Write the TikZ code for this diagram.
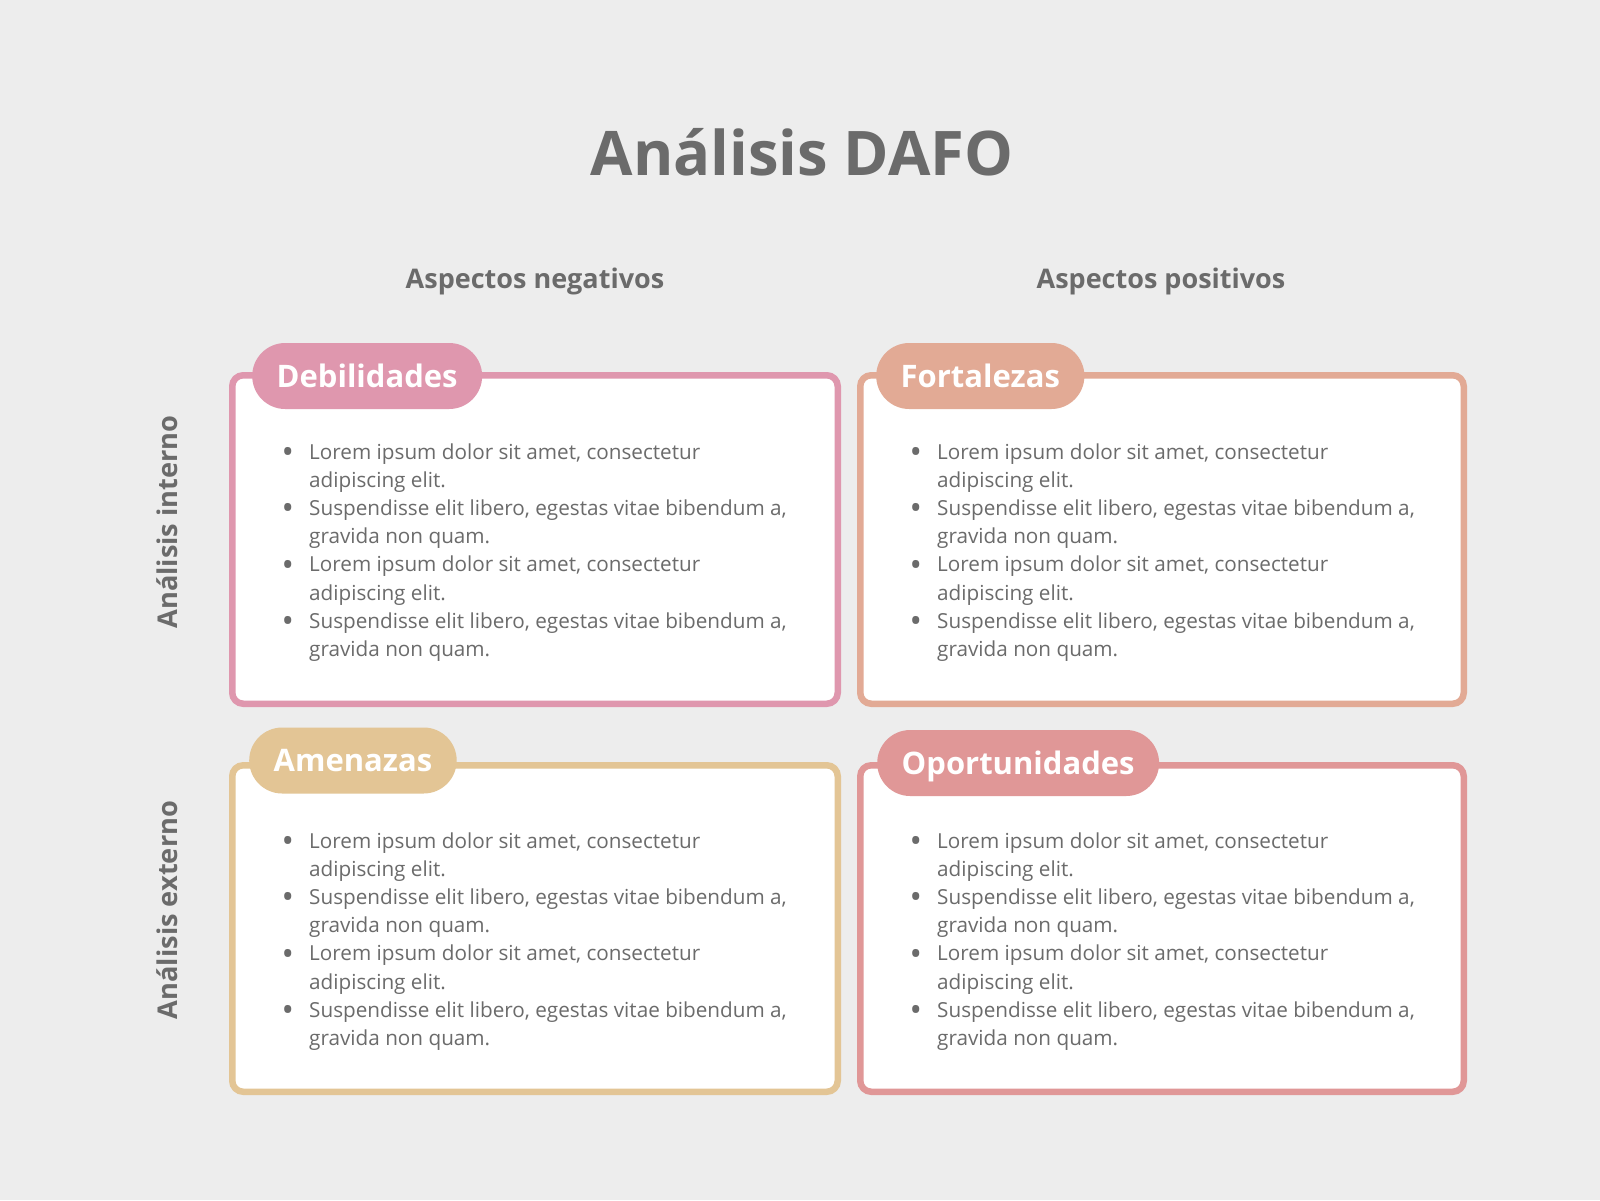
\documentclass[tikz,border=0pt]{standalone}
\usepackage{fontspec}
\setmainfont{Open Sans}
\definecolor{bg}{HTML}{EDEDED}
\definecolor{txt}{HTML}{6B6B6B}
\definecolor{cdeb}{HTML}{DF97AE}
\definecolor{cfor}{HTML}{E2AA95}
\definecolor{came}{HTML}{E3C595}
\definecolor{copo}{HTML}{E09797}
\newcommand\bul{\makebox[0pt][r]{\makebox[0pt][c]{\raisebox{-4.5pt}{\fontsize{33}{33}\selectfont\textbullet}}\hspace{21.5pt}}}
\newcommand\dafolist{\begin{tabular}[t]{@{}l@{}}
\bul Lorem ipsum dolor sit amet, consectetur\\
adipiscing elit.\\
\bul Suspendisse elit libero, egestas vitae bibendum a,\\
gravida non quam.\\
\bul Lorem ipsum dolor sit amet, consectetur\\
adipiscing elit.\\
\bul Suspendisse elit libero, egestas vitae bibendum a,\\
gravida non quam.
\end{tabular}}
\begin{document}
\begin{tikzpicture}[x=1pt,y=-1pt,
  quad/.style={fill=white, line width=6.5pt, rounded corners=11pt},
  tab/.style={anchor=west, minimum height=66pt, inner xsep=24.5pt, inner ysep=0pt,
    text height=22pt, text depth=0pt,
    rounded corners=33pt, text=white, font=\fontsize{31}{37}\selectfont\bfseries},
  listtext/.style={anchor=base west, inner sep=0pt, text=txt,
    font=\fontsize{20.7}{28.2}\selectfont},
  head/.style={anchor=base, inner sep=0pt, text=txt, font=\fontsize{27}{32}\selectfont\bfseries},
  side/.style={anchor=base, rotate=90, inner sep=0pt, text=txt, font=\fontsize{27.2}{32}\selectfont\bfseries}]
\useasboundingbox (0,0) rectangle (1600,1200);
\fill[bg] (0,0) rectangle (1600,1200);

% title and headings
\node[anchor=base, inner sep=0pt, text=txt, font=\fontsize{61.5}{70}\selectfont\bfseries] (title) at (802,175) {Análisis DAFO};
\node[head] (neg) at (535,288) {Aspectos negativos};
\node[head] (pos) at (1161,288) {Aspectos positivos};
\node[side] (int) at (177,522) {Análisis interno};
\node[side] (ext) at (177,910) {Análisis externo};

% boxes
\draw[quad, draw=cdeb] (232.25,375.25) rectangle (837.75,703.75);
\draw[quad, draw=cfor] (860.25,375.25) rectangle (1463.75,703.75);
\draw[quad, draw=came] (232.25,765.25) rectangle (837.75,1091.75);
\draw[quad, draw=copo] (860.25,765.25) rectangle (1463.75,1091.75);

% tabs
\node[tab, fill=cdeb] (deb) at (252,376) {Debilidades};
\node[tab, fill=cfor] (for) at (876,376) {Fortalezas};
\node[tab, fill=came] (ame) at (249,760.5) {Amenazas};
\node[tab, fill=copo] (opo) at (877,763) {Oportunidades};

% lists
\node[listtext] (ldeb) at (309,459) {\dafolist};
\node[listtext] (lfor) at (937,459) {\dafolist};
\node[listtext] (lame) at (309,848) {\dafolist};
\node[listtext] (lopo) at (937,848) {\dafolist};
\end{tikzpicture}
\end{document}
